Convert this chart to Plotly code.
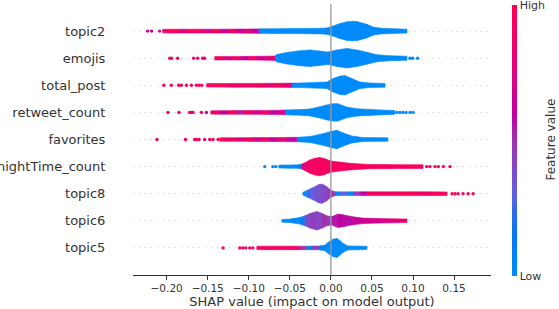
import plotly.graph_objects as go
from plotly.colors import sample_colorscale

# ---------------- data ----------------
features = ["topic2", "emojis", "total_post", "retweet_count", "favorites",
            "nightTime_count", "topic8", "topic6", "topic5"]

x_tickvals = [-0.20, -0.15, -0.10, -0.05, 0.00, 0.05, 0.10, 0.15]
x_ticktext = ["\u22120.20", "\u22120.15", "\u22120.10", "\u22120.05", "0.00", "0.05", "0.10", "0.15"]

# shap red_blue colour map (low -> high feature value)
cmap_stops = [0.0, 0.15, 0.25, 0.3, 0.4, 0.5, 0.6, 0.75, 1.0]
cmap_colors = ["#008bfb", "#0078f0", "#3a68e6", "#6060e0", "#8048c8",
               "#a030b0", "#c000a0", "#e0007e", "#ff0052"]

# violin profiles: SHAP value, half width (row units), feature-value colour
topic2_x = [-0.2049, -0.195, -0.185, -0.175, -0.165, -0.155, -0.145, -0.135, -0.125, -0.115,
            -0.105, -0.097, -0.0890, -0.0878, -0.070, -0.050, -0.030, -0.012, -0.0049, 0.0024,
            0.0110, 0.0195, 0.0268, 0.0320, 0.0354, 0.0439, 0.0512, 0.0598, 0.0720, 0.0927]
topic2_w = [0.065, 0.07, 0.07, 0.07, 0.07, 0.07, 0.07, 0.072, 0.072, 0.074,
            0.076, 0.078, 0.08, 0.085, 0.088, 0.092, 0.095, 0.105, 0.118, 0.185,
            0.277, 0.345, 0.360, 0.35, 0.320, 0.250, 0.150, 0.11, 0.092, 0.07]
topic2_c = [0.9, 0.95, 0.75, 0.95, 0.9, 0.7, 0.92, 0.6, 0.85, 0.65,
            0.8, 0.6, 0.55, 0, 0, 0, 0, 0, 0, 0,
            0, 0, 0, 0, 0, 0, 0, 0, 0, 0]
topic2_dots_x = [-0.2232, -0.2183, -0.2085]
topic2_dots_c = [0.7, 0.65, 0.55]

emojis_x = [-0.1415, -0.130, -0.120, -0.110, -0.100, -0.090, -0.080, -0.0683, -0.0659, -0.0537,
            -0.0378, -0.0256, -0.0134, -0.0037, 0.0073, 0.0195, 0.0317, 0.0439, 0.0561, 0.0720, 0.0927]
emojis_w = [0.065, 0.065, 0.065, 0.065, 0.068, 0.07, 0.072, 0.081, 0.137, 0.214,
            0.277, 0.306, 0.266, 0.229, 0.306, 0.362, 0.306, 0.22, 0.13, 0.092, 0.074]
emojis_c = [0.9, 0.7, 0.92, 0.6, 0.88, 0.65, 0.8, 0, 0, 0,
            0, 0, 0, 0, 0, 0, 0, 0, 0, 0, 0]
emojis_dots_x = [-0.1963, -0.1939, -0.1866, -0.1671, -0.1622, -0.1561, -0.1537, 0.0963, 0.0996, 0.1057]
emojis_dots_c = [0.9, 0.9, 0.9, 0.9, 0.9, 0.9, 0.85, 0, 0, 0]

total_post_x = [-0.1512, -0.140, -0.130, -0.120, -0.110, -0.100, -0.090, -0.080, -0.070, -0.060,
                -0.0476, -0.0378, -0.0049, 0.0024, 0.0110, 0.0171, 0.0256, 0.0354, 0.0476, 0.0659]
total_post_w = [0.062, 0.065, 0.065, 0.068, 0.068, 0.07, 0.07, 0.072, 0.074, 0.076,
                0.081, 0.085, 0.12, 0.247, 0.339, 0.358, 0.247, 0.122, 0.085, 0.07]
total_post_c = [0.95, 0.92, 0.95, 0.9, 0.93, 0.85, 0.95, 0.8, 0.92, 0.75,
                0, 0, 0, 0, 0, 0, 0, 0, 0, 0]
total_post_dots_x = [-0.2034, -0.1943, -0.1854, -0.1821, -0.1760, -0.1699, -0.1638, -0.1606, -0.1573]
total_post_dots_c = [0.95, 0.95, 0.9, 0.95, 0.9, 0.95, 0.9, 0.95, 0.9]

retweet_count_x = [-0.1463, -0.135, -0.125, -0.115, -0.105, -0.095, -0.085, -0.075, -0.065, -0.0561,
                   -0.0378, -0.0256, -0.0134, -0.0049, 0.0024, 0.0085, 0.0195, 0.0317, 0.0476, 0.0598, 0.0780]
retweet_count_w = [0.062, 0.065, 0.065, 0.068, 0.07, 0.07, 0.072, 0.074, 0.076, 0.09,
                   0.103, 0.129, 0.21, 0.277, 0.321, 0.321, 0.196, 0.137, 0.11, 0.092, 0.07]
retweet_count_c = [0.9, 0.6, 0.92, 0.55, 0.9, 0.65, 0.88, 0.6, 0.7, 0,
                   0, 0, 0, 0, 0, 0, 0, 0, 0, 0, 0]
retweet_count_dots_x = [-0.1984, -0.1850, -0.1720, -0.1699, -0.1679, -0.1577, -0.1516,
                        0.0805, 0.0841, 0.0878, 0.0915, 0.0963, 0.1000]
retweet_count_dots_c = [0.9, 0.9, 0.9, 0.85, 0.9, 0.9, 0.7, 0, 0, 0, 0, 0, 0]

favorites_x = [-0.1354, -0.125, -0.115, -0.105, -0.095, -0.085, -0.075, -0.065, -0.055, -0.0415,
               -0.0256, -0.0098, 0.0012, 0.0073, 0.0146, 0.0256, 0.0390, 0.0695]
favorites_w = [0.062, 0.065, 0.065, 0.068, 0.07, 0.07, 0.072, 0.074, 0.078, 0.081,
               0.111, 0.214, 0.306, 0.339, 0.247, 0.129, 0.074, 0.065]
favorites_c = [0.92, 0.9, 0.7, 0.92, 0.65, 0.9, 0.6, 0.85, 0.6, 0,
               0, 0, 0, 0, 0, 0, 0, 0]
favorites_dots_x = [-0.2118, -0.1772, -0.1659, -0.1638, -0.1606, -0.1537, -0.1476, -0.1435, -0.1374]
favorites_dots_c = [0.95, 0.95, 0.95, 0.9, 0.95, 0.9, 0.95, 0.9, 0.95]

nightTime_count_x = [-0.0634, -0.050, -0.040, -0.0354, -0.0317, -0.0256, -0.0195, -0.0134, -0.0073, -0.0012,
                     0.0049, 0.0110, 0.0232, 0.0354, 0.0476, 0.065, 0.085, 0.1122]
nightTime_count_w = [0.055, 0.06, 0.065, 0.092, 0.14, 0.247, 0.31, 0.34, 0.29, 0.22,
                     0.185, 0.166, 0.122, 0.1, 0.081, 0.076, 0.072, 0.068]
nightTime_count_c = [0, 0.03, 0.1, 0.75, 0.85, 0.9, 0.92, 0.93, 0.93, 0.93,
                     0.93, 0.93, 0.93, 0.95, 0.95, 0.95, 0.95, 0.95]
nightTime_count_dots_x = [-0.0805, -0.0707, -0.0671, 0.1167, 0.1207, 0.1268, 0.1309, 0.1370, 0.1451]
nightTime_count_dots_c = [0, 0, 0, 0.95, 0.95, 0.95, 0.95, 0.95, 0.95]

topic8_x = [-0.0341, -0.0280, -0.0237, -0.0195, -0.0152, -0.0110, -0.0073, -0.0049, -0.0012, 0.0012,
            0.0049, 0.012, 0.020, 0.028, 0.036, 0.045, 0.060, 0.080, 0.100, 0.120, 0.1415]
topic8_w = [0.05, 0.137, 0.2, 0.258, 0.33, 0.358, 0.3, 0.258, 0.16, 0.111,
            0.074, 0.068, 0.068, 0.068, 0.07, 0.07, 0.07, 0.07, 0.07, 0.068, 0.065]
topic8_c = [0, 0.28, 0.32, 0.35, 0.38, 0.4, 0.42, 0.45, 0.48, 0.5,
            0, 0.3, 0.05, 0.45, 0.6, 0.9, 0.92, 0.95, 0.93, 0.95, 0.95]
topic8_dots_x = [0.1476, 0.1512, 0.1549, 0.1610, 0.1671, 0.1732]
topic8_dots_c = [0.95, 0.95, 0.95, 0.95, 0.95, 0.95]

topic6_x = [-0.0598, -0.0500, -0.0378, -0.0317, -0.0256, -0.0171, -0.0110, -0.0049, 0.0012, 0.0085,
            0.0146, 0.0268, 0.0390, 0.0598, 0.0750, 0.0927]
topic6_w = [0.05, 0.063, 0.122, 0.185, 0.27, 0.34, 0.277, 0.185, 0.155, 0.247,
            0.222, 0.148, 0.10, 0.081, 0.074, 0.066]
topic6_c = [0, 0.03, 0.08, 0.38, 0.45, 0.4, 0.5, 0.45, 0.55, 0.6,
            0.58, 0.65, 0.68, 0.72, 0.8, 0.85]
topic6_dots_x = []
topic6_dots_c = []

topic5_x = [-0.0902, -0.080, -0.070, -0.060, -0.050, -0.0378, -0.030, -0.022, -0.015, -0.0073,
            -0.0037, 0.0024, 0.0073, 0.0110, 0.0146, 0.0207, 0.0439]
topic5_w = [0.062, 0.065, 0.065, 0.065, 0.065, 0.065, 0.065, 0.068, 0.07, 0.103,
            0.196, 0.321, 0.351, 0.27, 0.173, 0.074, 0.063]
topic5_c = [0.92, 0.95, 0.9, 0.93, 0.88, 0.5, 0.1, 0.45, 0.05, 0,
            0, 0, 0, 0, 0, 0, 0]
topic5_dots_x = [-0.1313, -0.1110, -0.1073, -0.1037, -0.0988, -0.0951]
topic5_dots_c = [0.92, 0.92, 0.92, 0.92, 0.92, 0.92]

# ---------------- figure ----------------
profiles = [
    (topic2_x, topic2_w, topic2_c, topic2_dots_x, topic2_dots_c),
    (emojis_x, emojis_w, emojis_c, emojis_dots_x, emojis_dots_c),
    (total_post_x, total_post_w, total_post_c, total_post_dots_x, total_post_dots_c),
    (retweet_count_x, retweet_count_w, retweet_count_c, retweet_count_dots_x, retweet_count_dots_c),
    (favorites_x, favorites_w, favorites_c, favorites_dots_x, favorites_dots_c),
    (nightTime_count_x, nightTime_count_w, nightTime_count_c, nightTime_count_dots_x, nightTime_count_dots_c),
    (topic8_x, topic8_w, topic8_c, topic8_dots_x, topic8_dots_c),
    (topic6_x, topic6_w, topic6_c, topic6_dots_x, topic6_dots_c),
    (topic5_x, topic5_w, topic5_c, topic5_dots_x, topic5_dots_c),
]

colorscale = [[s, c] for s, c in zip(cmap_stops, cmap_colors)]
n = len(features)

polys = {}
dot_x, dot_y, dot_c = [], [], []
for i, (px, pw, pc, dx, dc) in enumerate(profiles):
    yc = n - 1 - i
    for k in range(len(px) - 1):
        lvl = round(pc[k] * 40) / 40
        xs, ys = polys.setdefault(lvl, ([], []))
        xs += [px[k], px[k + 1], px[k + 1], px[k], px[k], None]
        ys += [yc - pw[k], yc - pw[k + 1], yc + pw[k + 1], yc + pw[k], yc - pw[k], None]
    dot_x += list(dx)
    dot_y += [yc] * len(dx)
    dot_c += list(dc)

fig = go.Figure()
for lvl in sorted(polys):
    xs, ys = polys[lvl]
    col = sample_colorscale(colorscale, [lvl])[0]
    fig.add_trace(go.Scatter(x=xs, y=ys, mode="lines", fill="toself", fillcolor=col,
                             line=dict(color=col, width=0.6), hoverinfo="skip",
                             showlegend=False))

fig.add_trace(go.Scatter(
    x=dot_x, y=dot_y, mode="markers", showlegend=False, hoverinfo="skip",
    marker=dict(size=3.4, color=dot_c, colorscale=colorscale, cmin=0, cmax=1,
                line=dict(width=0), showscale=True,
                colorbar=dict(thickness=5, lenmode="pixels", len=271, x=1.0587,
                              xanchor="left", xpad=0, y=0.497, yanchor="middle", ypad=0,
                              outlinewidth=0, ticks="", tickvals=[0, 1],
                              ticktext=["Low", "High"], ticklabeloverflow="allow",
                              tickfont=dict(size=11, color="#333333", family="DejaVu Sans"))),
))

fig.add_shape(type="line", x0=0, x1=0, y0=0, y1=1, xref="x", yref="paper",
              line=dict(color="#999999", width=1.3), layer="above")

fig.add_annotation(text="Feature value", x=1.165, y=0.5, xref="paper", yref="paper",
                   xanchor="center", yanchor="middle",
                   textangle=-90, showarrow=False,
                   font=dict(size=12, color="#333333", family="DejaVu Sans"))

fig.update_layout(
    width=559, height=309,
    margin=dict(l=133, r=68, t=4, b=34, autoexpand=False),
    plot_bgcolor="white", paper_bgcolor="white",
    font=dict(family="DejaVu Sans", color="#333333"),
    xaxis=dict(range=[-0.241, 0.195], tickvals=x_tickvals, ticktext=x_ticktext,
               ticks="outside", ticklen=3.5, tickcolor="#333333", tickwidth=1,
               showline=True, linecolor="#333333", linewidth=1, showgrid=False,
               zeroline=False, tickfont=dict(size=10.5, color="#333333"),
               title=dict(text="SHAP value (impact on model output)",
                          font=dict(size=13, color="#333333"), standoff=5),
               automargin=False),
    yaxis=dict(range=[-1, 9], tickvals=list(range(n)), ticktext=features[::-1],
               showgrid=True, gridcolor="#cccccc", griddash="1px,5px", gridwidth=0.8,
               zeroline=False, showline=False, ticks="outside", ticklen=24,
               tickcolor="rgba(0,0,0,0)", tickfont=dict(size=13, color="#333333"),
               automargin=False),
)

fig.write_html("out.html", config={"displayModeBar": False},
               post_script="document.body.style.margin='0';document.body.style.overflow='hidden';")
